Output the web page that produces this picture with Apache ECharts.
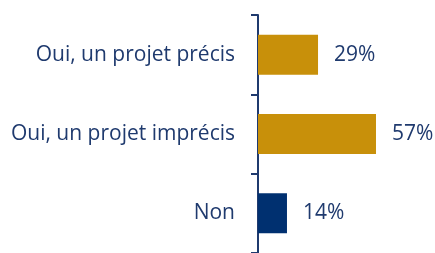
<!DOCTYPE html>
<html>
<head>
<meta charset="utf-8">
<script src="https://cdn.jsdelivr.net/npm/echarts@6/dist/echarts.min.js"></script>
<style>
html,body{margin:0;padding:0;background:#fff;}
#chart{width:435px;height:253px;}
</style>
</head>
<body>
<div id="chart"></div>
<script>
const categories = ["Oui, un projet précis", "Oui, un projet imprécis", "Non"];
const values = [29, 57, 14];

const barColors = ["#C8900A", "#C8900A", "#003070"];
const navy = "#1F3A6E";

const chart = echarts.init(document.getElementById('chart'), null, {renderer: 'canvas'});
chart.setOption({
  animation: false,
  grid: {left: 258, top: 15, width: 165.6, height: 243},
  xAxis: {
    type: 'value', min: 0, max: 80, show: false
  },
  yAxis: {
    type: 'category',
    data: categories,
    inverse: true,
    axisLine: {show: true, lineStyle: {color: navy, width: 2}},
    axisTick: {show: true, alignWithLabel: false, length: 7, lineStyle: {color: navy, width: 2}},
    axisLabel: {color: navy, fontFamily: 'Open Sans', fontSize: 21, margin: 23}
  },
  series: [{
    type: 'bar',
    data: values.map((v, i) => ({value: v, itemStyle: {color: barColors[i]}})),
    barWidth: 40,
    label: {
      show: true, position: 'right', distance: 16,
      formatter: '{c}%', color: navy, fontFamily: 'Open Sans', fontSize: 21
    }
  }]
});
</script>
</body>
</html>
